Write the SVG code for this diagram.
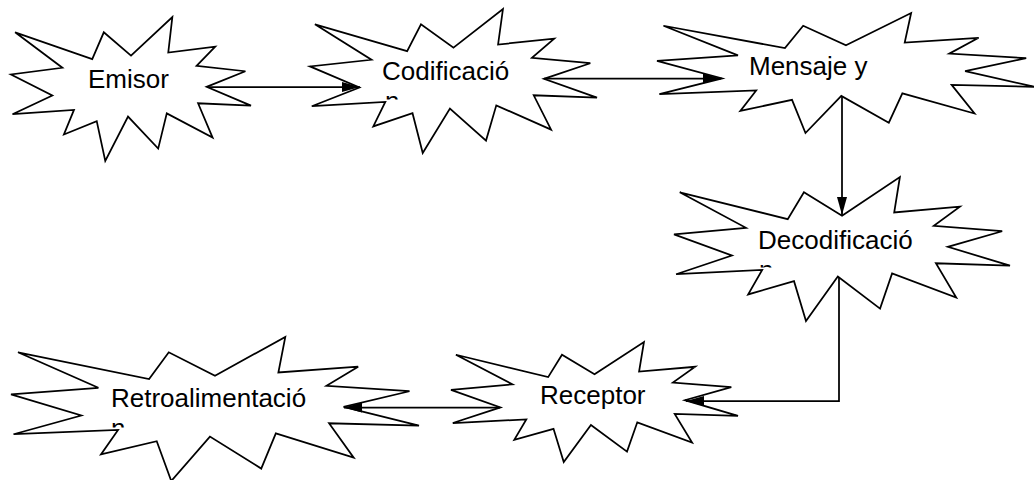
<svg xmlns="http://www.w3.org/2000/svg" xmlns:xlink="http://www.w3.org/1999/xlink" width="1034" height="480" viewBox="0 0 1034 480">
<style>
.star{fill:#fff;stroke:#000}
.lbl{font-family:"Liberation Sans",Arial,sans-serif;font-size:26px;fill:#000}
.con{fill:none;stroke:#000;stroke-width:1.75}
</style>
<defs>
<polygon id="seal" vector-effect="non-scaling-stroke" stroke-width="1.75" stroke-linejoin="miter" points="50,26.85 67.23,0 65.53,24.65 85.09,20.63 77.32,33.87 97.67,37.67 81.51,48.5 100,61.53 77.95,59.92 84,83.77 64.91,66.93 61.33,91.38 48.76,69.14 39.28,100 35.72,72.35 22.05,81.56 26.24,64.52 0.625,67.53 17.23,54.51 0,39.88 21.42,35.26 1.71,10.63 33.85,29.26 38.67,10.63"/>
<marker id="arr" markerUnits="userSpaceOnUse" markerWidth="18" markerHeight="10" refX="18" refY="5" orient="auto" viewBox="0 0 18 10">
<path d="M0,0 L18,5 L0,10 Z" fill="#000"/>
</marker>
<clipPath id="c1"><rect x="370" y="85" width="40" height="14.5"/></clipPath>
<clipPath id="c2"><rect x="750" y="255" width="40" height="12.5"/></clipPath>
<clipPath id="c3"><rect x="100" y="415" width="40" height="12.5"/></clipPath>
</defs>
<g id="emisor">
<use xlink:href="#seal" class="star" transform="translate(11,17) scale(2.40,1.44)"/>
<text class="lbl" x="88" y="88">Emisor</text>
</g>
<g id="codificacion">
<use xlink:href="#seal" class="star" transform="translate(310,9) scale(2.87,1.44)"/>
<text class="lbl" x="382" y="80">Codificació</text>
<text class="lbl" x="385" y="110" clip-path="url(#c1)">n</text>
</g>
<g id="mensaje">
<use xlink:href="#seal" class="star" transform="translate(657,13) scale(3.78,1.20)"/>
<text class="lbl" x="749" y="75">Mensaje y</text>
</g>
<g id="decodificacion">
<use xlink:href="#seal" class="star" transform="translate(674,177) scale(3.36,1.44)"/>
<text class="lbl" x="758" y="249">Decodificació</text>
<text class="lbl" x="759" y="279" clip-path="url(#c2)">n</text>
</g>
<g id="receptor">
<use xlink:href="#seal" class="star" transform="translate(451,342) scale(2.87,1.20)"/>
<text class="lbl" x="540" y="404">Receptor</text>
</g>
<g id="retroalimentacion">
<use xlink:href="#seal" class="star" transform="translate(11,337) scale(4.08,1.44)"/>
<text class="lbl" x="111" y="407">Retroalimentació</text>
<text class="lbl" x="111" y="437" clip-path="url(#c3)">n</text>
</g>
<g id="connectors">
<path class="con" d="M207,87 L360,87" marker-end="url(#arr)"/>
<path class="con" d="M544,78.5 L721,78.5" marker-end="url(#arr)"/>
<path class="con" d="M842,96 L842,215" marker-end="url(#arr)"/>
<path class="con" d="M839,277 L839,401 L686,401" marker-end="url(#arr)"/>
<path class="con" d="M500,407.5 L344,407.5" marker-end="url(#arr)"/>
</g>
</svg>
